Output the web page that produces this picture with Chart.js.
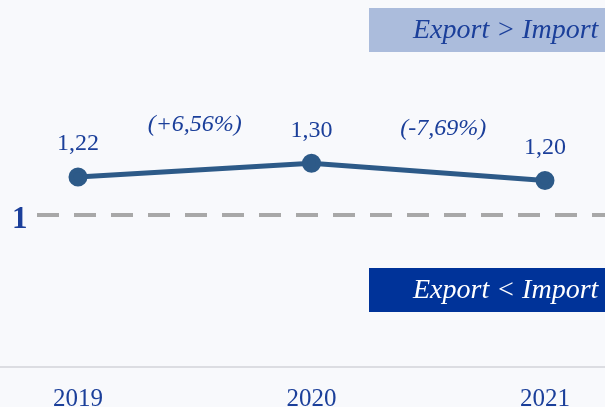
<!DOCTYPE html>
<html>
<head>
<meta charset="utf-8">
<script src="https://cdn.jsdelivr.net/npm/chart.js@4/dist/chart.umd.min.js"></script>
<style>
  html, body { margin: 0; padding: 0; background: #f8f9fc; }
  #wrap { width: 605px; height: 407px; position: relative; }
</style>
</head>
<body>
<div id="wrap"><canvas id="myChart"></canvas></div>
<script>
// данные
const years = [2019, 2020, 2021];
const ratios = [1.22, 1.30, 1.20];
const valueLabels = ['1,22', '1,30', '1,20'];
const changeLabels = ['(+6,56%)', '(-7,69%)'];
const threshold = 1;
const upperText = 'Export > Import';
const lowerText = 'Export < Import';

const NAVY = '#1b3f9a';
const SERIF = '"Liberation Serif", "DejaVu Serif", serif';

const overlay = {
    id: 'overlay',
    beforeDatasetsDraw(chart) {
        const ctx = chart.ctx;
        const y = chart.scales.y;
        const area = chart.chartArea;
        const yy = y.getPixelForValue(threshold);
        ctx.save();
        // пунктир на уровне 1
        ctx.strokeStyle = '#a8a8a8';
        ctx.lineWidth = 4;
        ctx.setLineDash([22, 15]);
        ctx.beginPath();
        ctx.moveTo(area.left + 37, yy);
        ctx.lineTo(area.right, yy);
        ctx.stroke();
        ctx.setLineDash([]);
        ctx.fillStyle = NAVY;
        ctx.font = 'bold 31px ' + SERIF;
        ctx.textAlign = 'left';
        ctx.textBaseline = 'middle';
        ctx.fillText(String(threshold), area.left + 12, yy + 5);

        // плашки
        ctx.fillStyle = '#abbcdc';
        ctx.fillRect(369, 8, area.right - 369, 44);
        ctx.fillStyle = '#003399';
        ctx.fillRect(369, 268, area.right - 369, 44);
        ctx.font = 'italic 28px ' + SERIF;
        ctx.textBaseline = 'middle';
        ctx.fillStyle = '#1b3f9a';
        ctx.fillText(upperText, 413, 31);
        ctx.fillStyle = '#ffffff';
        ctx.fillText(lowerText, 413, 291);
        ctx.restore();
    },
    afterDatasetsDraw(chart) {
        const ctx = chart.ctx;
        const meta = chart.getDatasetMeta(0);
        const shift = [0, 15];
        ctx.save();
        ctx.fillStyle = NAVY;
        ctx.textAlign = 'center';
        ctx.textBaseline = 'middle';
        ctx.font = '24px ' + SERIF;
        meta.data.forEach((pt, i) => {
            ctx.fillText(valueLabels[i], pt.x, pt.y - 33);
        });
        ctx.font = 'italic 24px ' + SERIF;
        changeLabels.forEach((lbl, i) => {
            const a = meta.data[i], b = meta.data[i + 1];
            ctx.fillText(lbl, (a.x + b.x) / 2 + shift[i], Math.max(a.y, b.y) - 52);
        });
        ctx.restore();
    }
};

new Chart(document.getElementById('myChart'), {
    type: 'line',
    data: {
        datasets: [{
            data: years.map((yr, i) => ({x: yr, y: ratios[i]})),
            borderColor: '#2d5a88',
            backgroundColor: '#2d5a88',
            borderWidth: 5,
            pointRadius: 7,
            pointHoverRadius: 7,
            tension: 0,
            fill: false,
            clip: false
        }]
    },
    options: {
        responsive: true,
        maintainAspectRatio: false,
        animation: false,
        layout: { padding: 0, autoPadding: false },
        plugins: { legend: { display: false }, tooltip: { enabled: false } },
        scales: {
            x: {
                type: 'linear',
                min: 2018.666,
                max: 2021.257,
                afterBuildTicks: (s) => { s.ticks = years.map(v => ({value: v})); },
                afterFit: (s) => { s.height = 40; },
                grid: { display: false, drawTicks: false },
                border: { display: true, color: '#dcdde2', width: 2 },
                ticks: {
                    padding: 17,
                    color: NAVY,
                    font: { family: SERIF, size: 25 },
                    callback: (v) => String(v)
                }
            },
            y: {
                display: false,
                min: 0.12,
                max: 2.245
            }
        }
    },
    plugins: [overlay]
});
</script>
</body>
</html>
